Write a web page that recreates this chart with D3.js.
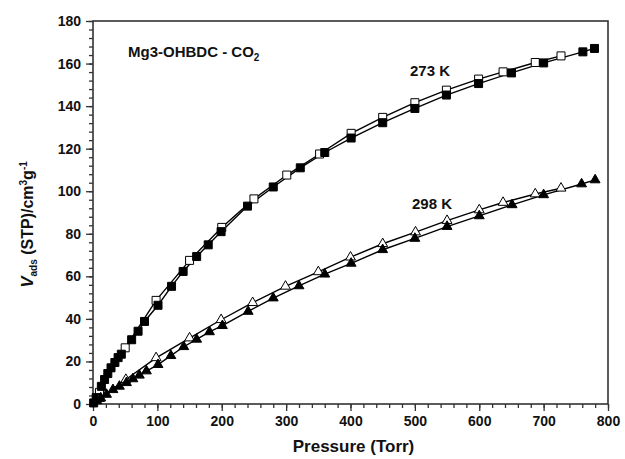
<!DOCTYPE html>
<html>
	<head>
		<meta charset="utf-8">
		<title>Mg3-OHBDC CO2 isotherms</title>
		<style type="text/css">
			body { margin: 0; background: #fff; }
			text { font-family: "Liberation Sans", Arial, sans-serif; font-weight: bold; fill: #111; }
			.axis text { font-size: 14px; }
			.axis path, .axis line { stroke: #333; stroke-width: 1.3; }
			.frame { fill: none; stroke: #333; stroke-width: 1.6; }
			.line { fill: none; stroke: #000; stroke-width: 1.4; }
		</style>
		<script src="https://d3js.org/d3.v7.min.js"></script>
	</head>
	<body>
		<div id="chart"></div>

		<script>
			// 273 K adsorption (filled squares)
			var ads273P = [1, 5, 13, 18, 23, 28, 34, 39, 44, 60, 70, 80, 101, 122, 140, 161, 179, 199, 240, 280, 322, 360, 401, 450, 500, 549, 599, 650, 700, 761, 779];
			var ads273V = [0.5, 3, 8.3, 11.5, 14.3, 17, 19.5, 21.8, 23.4, 30.2, 34.2, 38.8, 46.4, 55.3, 62.3, 69.3, 74.8, 81, 93, 102, 111, 118.2, 125, 132.2, 138.9, 145.2, 150.6, 155.6, 160.3, 165.5, 167.1];
			// 273 K desorption (open squares)
			var des273P = [10, 50, 98, 150, 200, 250, 301, 352, 401, 450, 500, 549, 599, 637, 687, 727];
			var des273V = [5.5, 26.4, 48.7, 67.5, 83, 96.4, 107.6, 117.5, 127.2, 134.7, 141.6, 147.5, 152.7, 156.1, 160.5, 163.6];
			// 298 K adsorption (filled triangles)
			var ads298P = [6, 12, 21, 31, 41, 52, 62, 72, 83, 101, 121, 141, 161, 181, 201, 241, 280, 320, 360, 401, 450, 500, 550, 600, 651, 700, 759, 780];
			var ads298V = [1.5, 2.8, 4.5, 6.7, 8.3, 10, 11.8, 13.5, 15.5, 18.5, 22.7, 26.9, 30.4, 33.9, 36.8, 43.5, 49.8, 55.5, 61, 66.1, 72.5, 77.8, 83.4, 88.4, 93.6, 98.3, 103.4, 105.3];
			// 298 K desorption (open triangles)
			var des298P = [10, 51, 98, 150, 199, 248, 299, 350, 400, 450, 501, 550, 600, 637, 687, 727];
			var des298V = [2.5, 11.5, 21.7, 31, 39.6, 47.6, 55.3, 62.1, 69, 75.3, 80.8, 86.2, 91.2, 94.7, 98.7, 101.4];

			var xTicks = [0, 100, 200, 300, 400, 500, 600, 700, 800];
			var yTicks = [0, 20, 40, 60, 80, 100, 120, 140, 160, 180];

			var margin = {top: 21, right: 17, bottom: 55, left: 93},
			width = 625 - margin.left - margin.right,
			height = 459 - margin.top - margin.bottom;

			var x = d3.scaleLinear().domain([0, 800]).range([0, width]);
			var y = d3.scaleLinear().domain([0, 180]).range([height, 0]);

			var svg = d3.select("#chart").append("svg")
			.attr("width", 625)
			.attr("height", 459)
			.append("g")
			.attr("transform", "translate(" + margin.left + "," + margin.top + ")");

			// minor ticks
			svg.append("g")
			.attr("class", "axis")
			.attr("transform", "translate(0," + height + ")")
			.call(d3.axisBottom(x).tickValues(d3.range(0, 801, 20)).tickSize(4).tickFormat(""))
			.select(".domain").remove();

			svg.append("g")
			.attr("class", "axis")
			.call(d3.axisLeft(y).tickValues(d3.range(0, 181, 4)).tickSize(4).tickFormat(""))
			.select(".domain").remove();

			// major ticks
			svg.append("g")
			.attr("class", "axis")
			.attr("transform", "translate(0," + height + ")")
			.call(d3.axisBottom(x).tickValues(xTicks).tickSize(7).tickPadding(5).tickSizeOuter(0))
			.select(".domain").remove();

			svg.append("g")
			.attr("class", "axis")
			.call(d3.axisLeft(y).tickValues(yTicks).tickSize(7).tickPadding(5).tickSizeOuter(0))
			.select(".domain").remove();

			svg.append("rect")
			.attr("class", "frame")
			.attr("x", 0).attr("y", 0)
			.attr("width", width).attr("height", height);

			function pts(P, V) {
				return P.map(function(p, i) { return {p: p, v: V[i]}; });
			}

			var line = d3.line()
			.x(function(d) { return x(d.p); })
			.y(function(d) { return y(d.v); });

			var series = [
				{data: pts(des273P, des273V), shape: d3.symbolSquare, size: 64, fill: "#fff"},
				{data: pts(ads273P, ads273V), shape: d3.symbolSquare, size: 64, fill: "#000"},
				{data: pts(des298P, des298V), shape: d3.symbolTriangle, size: 42, fill: "#fff"},
				{data: pts(ads298P, ads298V), shape: d3.symbolTriangle, size: 42, fill: "#000"}
			];

			series.forEach(function(s) {
				svg.append("path")
				.datum(s.data)
				.attr("class", "line")
				.attr("d", line);
			});

			series.forEach(function(s) {
				svg.append("g").selectAll("path")
				.data(s.data)
				.enter().append("path")
				.attr("d", d3.symbol().type(s.shape).size(s.size))
				.attr("transform", function(d) { return "translate(" + x(d.p) + "," + y(d.v) + ")"; })
				.attr("fill", s.fill)
				.attr("stroke", "#000")
				.attr("stroke-width", 1);
			});

			// labels
			var t = svg.append("text")
			.attr("x", 35).attr("y", 36)
			.style("font-size", "15px");
			t.append("tspan").text("Mg3-OHBDC - CO");
			t.append("tspan").attr("dy", 4).style("font-size", "10px").text("2");

			svg.append("text")
			.attr("x", 317).attr("y", 55)
			.style("font-size", "15px")
			.text("273 K");

			svg.append("text")
			.attr("x", 319).attr("y", 188)
			.style("font-size", "15px")
			.text("298 K");

			svg.append("text")
			.attr("x", width / 2 + 3)
			.attr("y", height + 48)
			.attr("text-anchor", "middle")
			.style("font-size", "17px")
			.text("Pressure (Torr)");

			var yl = svg.append("text")
			.attr("transform", "translate(-60," + (height / 2 + 12) + ") rotate(-90)")
			.attr("text-anchor", "middle")
			.style("font-size", "16px");
			yl.append("tspan").style("font-style", "italic").style("font-size", "17px").text("V");
			yl.append("tspan").attr("dy", 4).style("font-size", "10px").text("ads");
			yl.append("tspan").attr("dy", -4).text(" (STP)/cm");
			yl.append("tspan").attr("dy", -6).style("font-size", "10px").text("3");
			yl.append("tspan").attr("dy", 6).text("g");
			yl.append("tspan").attr("dy", -6).style("font-size", "10px").text("-1");
		</script>
	</body>
</html>
